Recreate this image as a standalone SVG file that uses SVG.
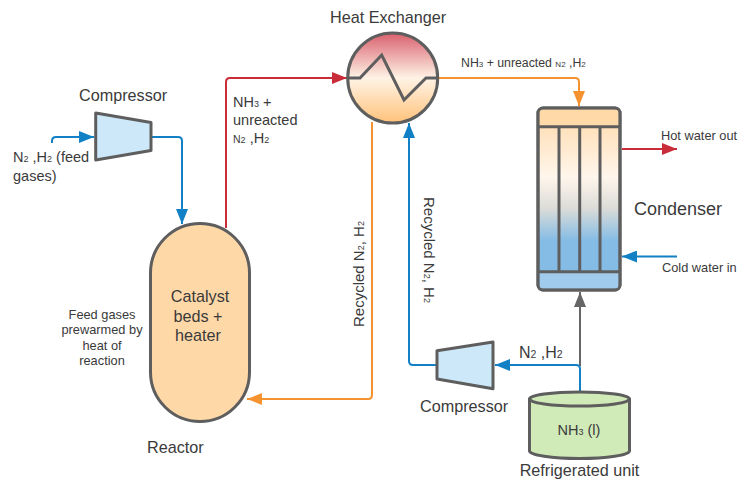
<svg xmlns="http://www.w3.org/2000/svg" width="752" height="480" viewBox="0 0 752 480">
<style>
text{font-family:"Liberation Sans",Arial,sans-serif;fill:#3a3a3a}
.s{stroke:#5e5e5e;stroke-width:3;stroke-linejoin:round}
.t{fill:none;stroke:#5e5e5e;stroke-width:3}
.c{fill:none;stroke-width:2}
.b{stroke:#1280c4}.r{stroke:#c92d39}.o{stroke:#f59330}.g{stroke:#666}
.l16{font-size:16.200px}.l18{font-size:18px}.l14{font-size:14.500px}.l15{font-size:15px}.l13{font-size:12.800px}.l12{font-size:12.300px}
.sub{font-size:9px}.n{font-size:10.500px}.x{font-size:8px}.big{font-size:16px}
.m{text-anchor:middle}
</style>
<defs>
<linearGradient id="hx" x1="0" y1="0" x2="0" y2="1">
<stop offset="0" stop-color="#d9606d"/><stop offset=".5" stop-color="#fff3e6"/><stop offset="1" stop-color="#ffc27a"/>
</linearGradient>
<linearGradient id="cd" x1="0" y1="0" x2="0" y2="1">
<stop offset="0" stop-color="#ffd9a8"/><stop offset=".38" stop-color="#fff6ec"/><stop offset=".55" stop-color="#dcdcd8"/><stop offset=".73" stop-color="#84bce6"/><stop offset="1" stop-color="#84bce6"/>
</linearGradient>
<marker id="ab" markerUnits="userSpaceOnUse" markerWidth="15" markerHeight="12" refX="15" refY="6" orient="auto"><path d="M0 0L15 6L0 12z" fill="#1280c4"/></marker>
<marker id="ar" markerUnits="userSpaceOnUse" markerWidth="15" markerHeight="12" refX="15" refY="6" orient="auto"><path d="M0 0L15 6L0 12z" fill="#c92d39"/></marker>
<marker id="ao" markerUnits="userSpaceOnUse" markerWidth="15" markerHeight="12" refX="15" refY="6" orient="auto"><path d="M0 0L15 6L0 12z" fill="#f59330"/></marker>
<marker id="ag" markerUnits="userSpaceOnUse" markerWidth="15" markerHeight="12" refX="15" refY="6" orient="auto"><path d="M0 0L15 6L0 12z" fill="#666"/></marker>
</defs>
<g id="connectors">
<path class="c g" d="M580 366V292" marker-end="url(#ag)"/>
<path class="c b" d="M52 143V141Q52 137 56 137H94" marker-end="url(#ab)"/>
<path class="c b" d="M151 137H178Q182 137 182 141V224" marker-end="url(#ab)"/>
<path class="c r" d="M226 228V82Q226 78 230 78H347" marker-end="url(#ar)"/>
<path class="c o" d="M438 78H575Q579 78 579 82V106" marker-end="url(#ao)"/>
<path class="c o" d="M372 122V395Q372 399 368 399H247" marker-end="url(#ao)"/>
<path class="c b" d="M580 392V369Q580 365 576 365H495" marker-end="url(#ab)"/>
<path class="c b" d="M437 365H413Q409 365 409 361V123" marker-end="url(#ab)"/>
<path class="c r" d="M622 149H677" marker-end="url(#ar)"/>
<path class="c b" d="M677 256.500H622" marker-end="url(#ab)"/>
</g>
<g id="heat-exchanger">
<circle class="s" cx="392.700" cy="78" r="45" fill="url(#hx)"/>
<path class="t" d="M348 78H360L381.700 55L404 100L426 78H438"/>
<text class="l16" x="330" y="23">Heat Exchanger</text>
</g>
<g id="condenser">
<rect class="s" x="538" y="108" width="82" height="182" rx="5" fill="url(#cd)"/>
<path d="M539.500 109.500h79v17h-79z" fill="#ffd9a8"/>
<path d="M539.500 272h79v16.500h-79z" fill="#a0cbec"/>
<rect class="t" x="538" y="108" width="82" height="182" rx="5"/>
<path class="t" d="M538 126.700H620M538 271.700H620M559 126.700V271.700M579.700 126.700V271.700M600 126.700V271.700"/>
<text class="l18" x="634" y="215">Condenser</text>
<text class="l13" x="661" y="140">Hot water out</text>
<text class="l13" x="662" y="272">Cold water in</text>
</g>
<g id="compressor-1">
<path class="s" d="M95.700 113L151 122.500V150.500L95.700 160z" fill="#cde8f8"/>
<text class="l16" x="79" y="101">Compressor</text>
</g>
<g id="feed-label">
<text class="l14" x="13" y="162">N<tspan class="sub">2</tspan> ,H<tspan class="sub">2</tspan> (feed</text>
<text class="l14" x="13" y="181">gases)</text>
</g>
<g id="reactor">
<rect class="s" x="150.500" y="223.500" width="99" height="198" rx="49.500" fill="#ffd8a8"/>
<text class="l16 m" x="200" y="302">Catalyst</text>
<text class="l16 m" x="198" y="322">beds +</text>
<text class="l16 m" x="198" y="341">heater</text>
<text class="l16" x="147" y="453">Reactor</text>
</g>
<g id="reactor-note">
<text class="l13 m" x="102" y="319">Feed gases</text>
<text class="l13 m" x="102" y="334">prewarmed by</text>
<text class="l13 m" x="102" y="349.500">heat of</text>
<text class="l13 m" x="102" y="365">reaction</text>
</g>
<g id="compressor-2">
<path class="s" d="M437 350.700L493 342V388.700L437 379z" fill="#cde8f8"/>
<text class="l16" x="420" y="412">Compressor</text>
</g>
<g id="refrigerated-unit">
<path class="s" d="M529.500 399V451C529.500 455 552 458.500 579.500 458.500S629.500 455 629.500 451V399z" fill="#d0eab8"/>
<ellipse class="s" cx="579.500" cy="399" rx="50" ry="7" fill="#d0eab8"/>
<text class="l14 m" x="579" y="435">NH<tspan class="sub">3</tspan> (l)</text>
<text class="l16 m" x="579.500" y="476">Refrigerated unit</text>
</g>
<g id="labels">
<text class="l12" x="461" y="67">NH<tspan class="x">3</tspan> + unreacted <tspan class="x">N</tspan><tspan class="x">2</tspan> ,H<tspan class="x">2</tspan></text>
<text class="l14" x="233" y="107">NH<tspan class="sub">3</tspan> +</text>
<text class="l14" x="233" y="125">unreacted</text>
<text class="l14" x="233" y="143"><tspan class="n">N</tspan><tspan class="sub">2</tspan> ,H<tspan class="sub">2</tspan></text>
<text class="big" x="519" y="358">N<tspan class="n">2</tspan> ,H<tspan class="n">2</tspan></text>
<text class="l15" transform="translate(364 327) rotate(-90)">Recycled N<tspan class="sub">2</tspan>, H<tspan class="sub">2</tspan></text>
<text class="l15" transform="translate(424 197) rotate(90)">Recycled N<tspan class="sub">2</tspan>, H<tspan class="sub">2</tspan></text>
</g>
</svg>
